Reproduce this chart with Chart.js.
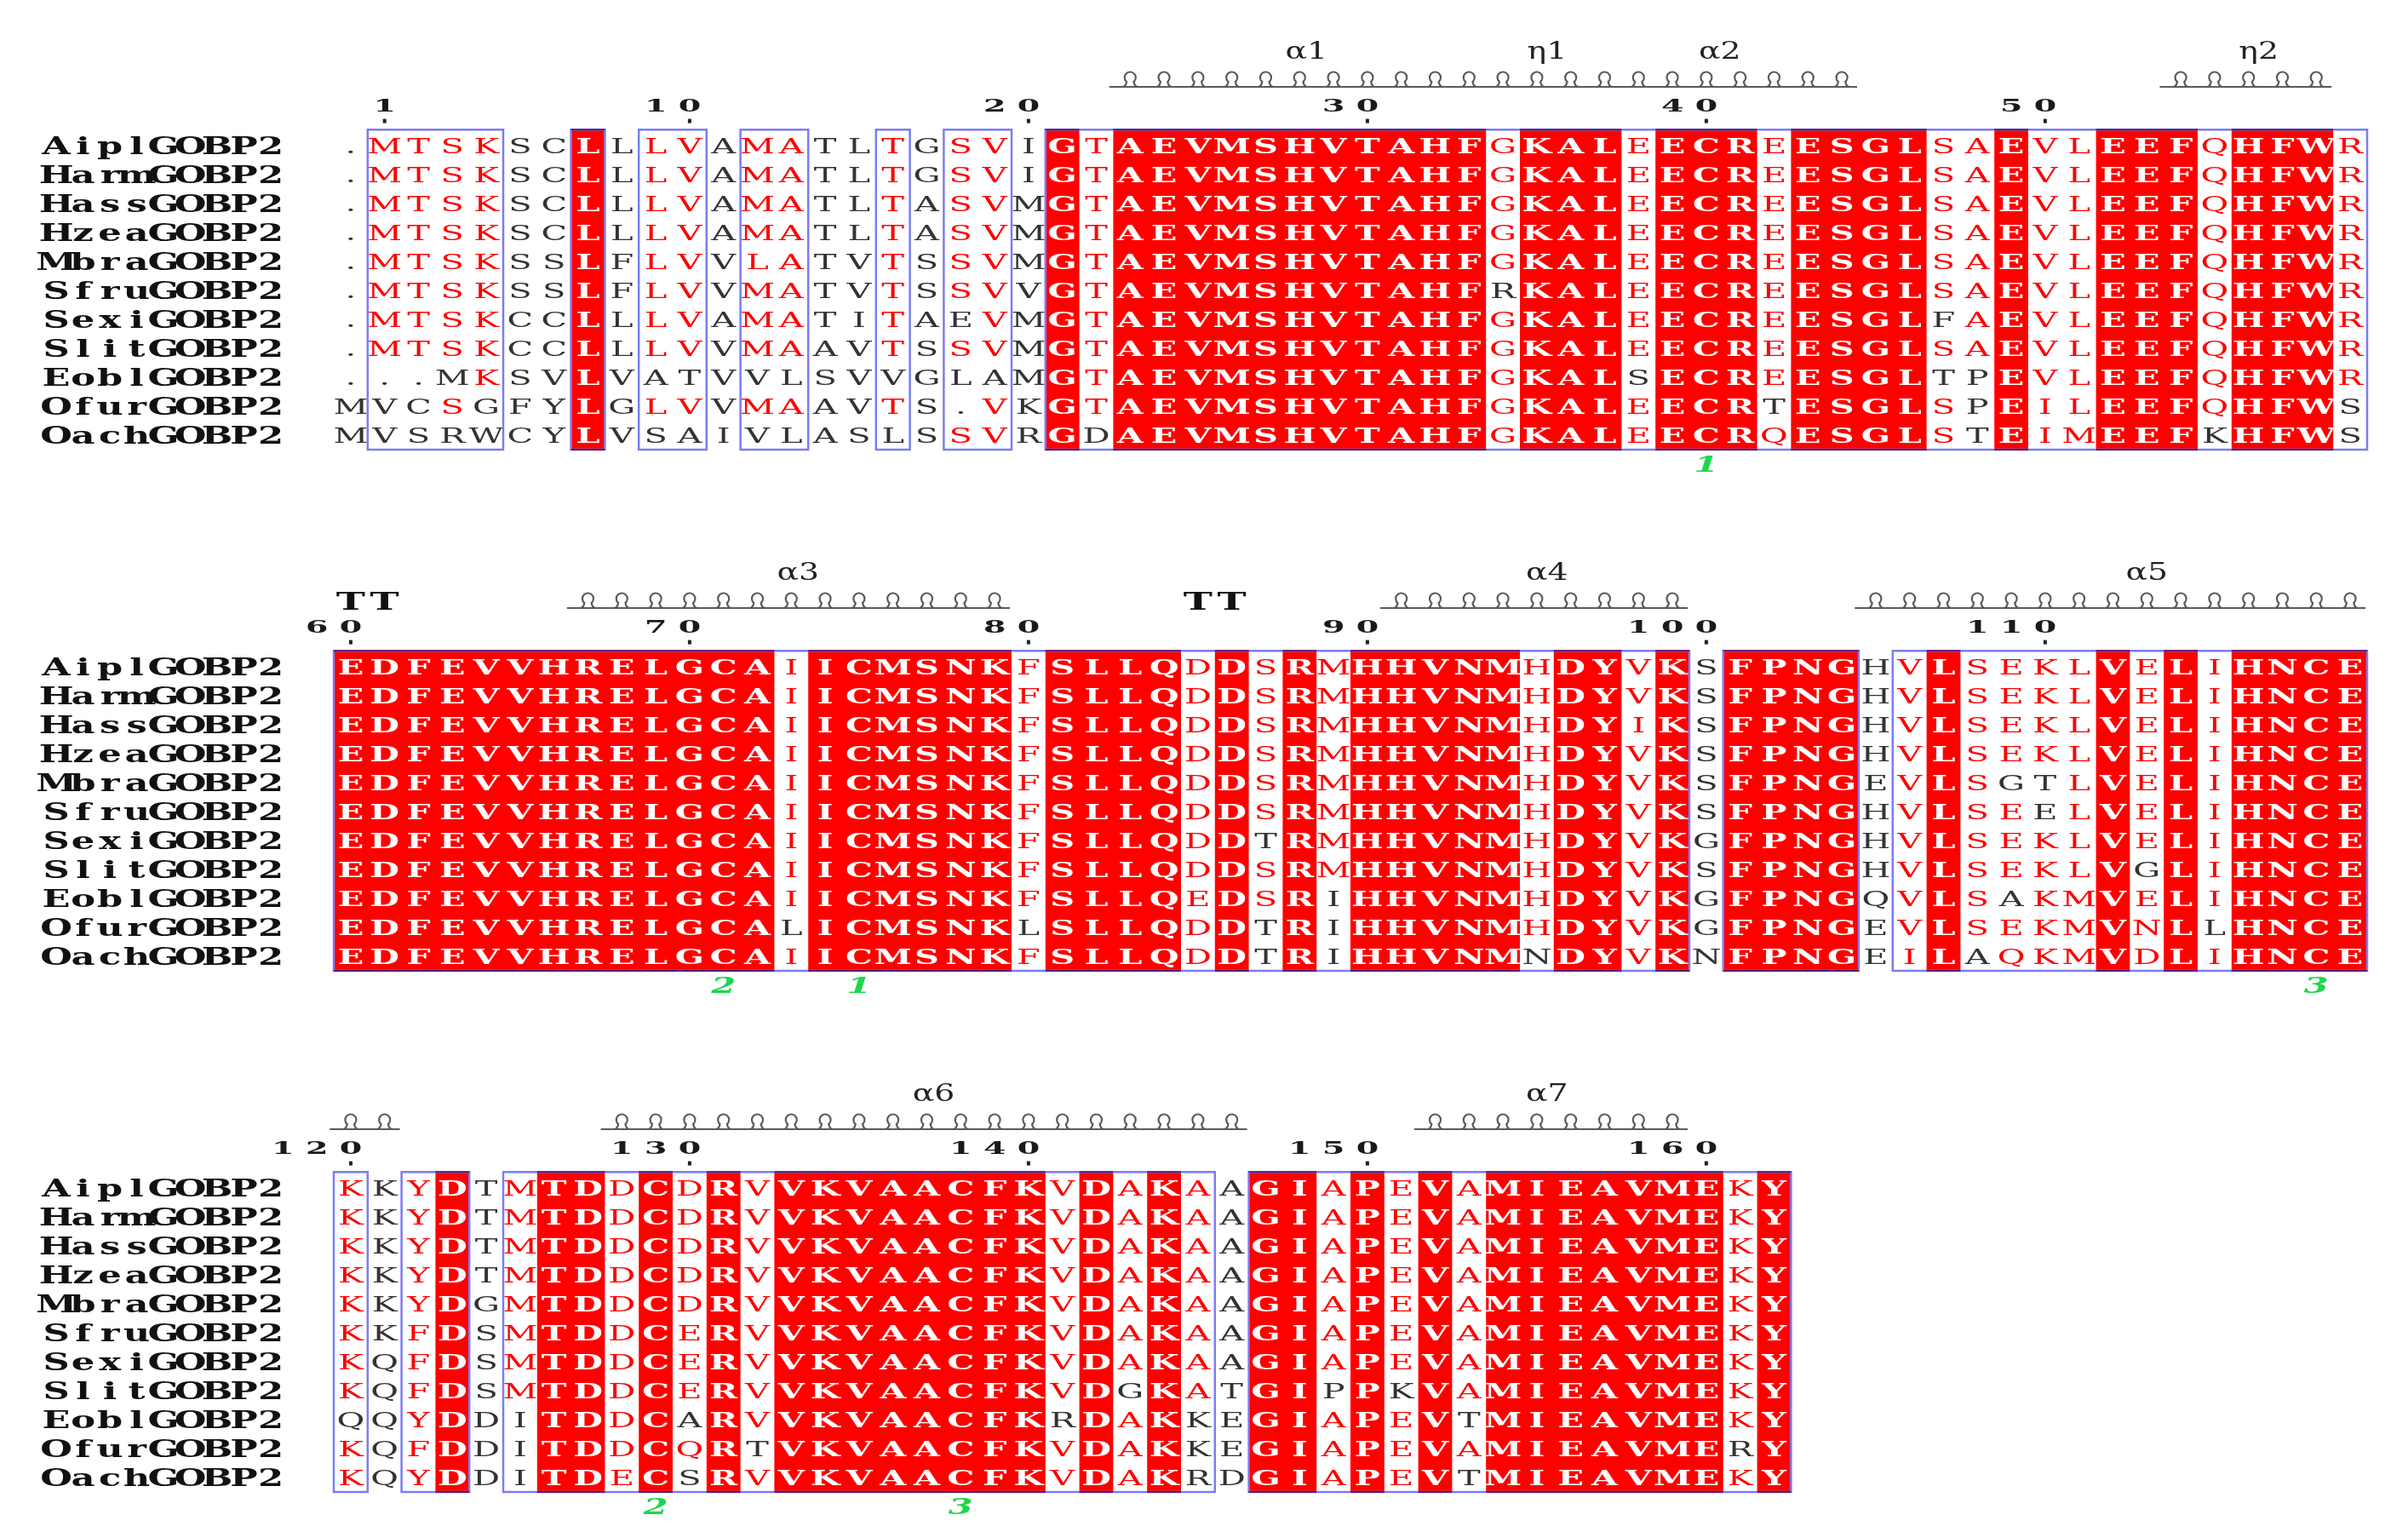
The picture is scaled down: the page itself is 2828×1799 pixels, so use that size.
<!DOCTYPE html>
<html><head><meta charset="utf-8">
<script src="https://cdn.jsdelivr.net/npm/chart.js@4.4.0/dist/chart.umd.min.js"></script>
<style>html,body{margin:0;padding:0;background:#fff;}#wrap{width:2828px;height:1799px;position:relative;}</style>
</head><body><div id="wrap"><canvas id="c"></canvas></div>
<script>
// ---------- data ----------
const names = ['AiplGOBP2','HarmGOBP2','HassGOBP2','HzeaGOBP2','MbraGOBP2','SfruGOBP2','SexiGOBP2','SlitGOBP2','EoblGOBP2','OfurGOBP2','OachGOBP2'];

const seq1 = [
 '.MTSKSCLLLVAMATLTGSVIGTAEVMSHVTAHFGKALEECREESGLSAEVLEEFQHFWR',
 '.MTSKSCLLLVAMATLTGSVIGTAEVMSHVTAHFGKALEECREESGLSAEVLEEFQHFWR',
 '.MTSKSCLLLVAMATLTASVMGTAEVMSHVTAHFGKALEECREESGLSAEVLEEFQHFWR',
 '.MTSKSCLLLVAMATLTASVMGTAEVMSHVTAHFGKALEECREESGLSAEVLEEFQHFWR',
 '.MTSKSSLFLVVLATVTSSVMGTAEVMSHVTAHFGKALEECREESGLSAEVLEEFQHFWR',
 '.MTSKSSLFLVVMATVTSSVVGTAEVMSHVTAHFRKALEECREESGLSAEVLEEFQHFWR',
 '.MTSKCCLLLVAMATITAEVMGTAEVMSHVTAHFGKALEECREESGLFAEVLEEFQHFWR',
 '.MTSKCCLLLVVMAAVTSSVMGTAEVMSHVTAHFGKALEECREESGLSAEVLEEFQHFWR',
 '...MKSVLVATVVLSVVGLAMGTAEVMSHVTAHFGKALSECREESGLTPEVLEEFQHFWR',
 'MVCSGFYLGLVVMAAVTS.VKGTAEVMSHVTAHFGKALEECRTESGLSPEILEEFQHFWS',
 'MVSRWCYLVSAIVLASLSSVRGDAEVMSHVTAHFGKALEECRQESGLSTEIMEEFKHFWS'
];
const seq2 = [
 'EDFEVVHRELGCAIICMSNKFSLLQDDSRMHHVNMHDYVKSFPNGHVLSEKLVELIHNCE',
 'EDFEVVHRELGCAIICMSNKFSLLQDDSRMHHVNMHDYVKSFPNGHVLSEKLVELIHNCE',
 'EDFEVVHRELGCAIICMSNKFSLLQDDSRMHHVNMHDYIKSFPNGHVLSEKLVELIHNCE',
 'EDFEVVHRELGCAIICMSNKFSLLQDDSRMHHVNMHDYVKSFPNGHVLSEKLVELIHNCE',
 'EDFEVVHRELGCAIICMSNKFSLLQDDSRMHHVNMHDYVKSFPNGEVLSGTLVELIHNCE',
 'EDFEVVHRELGCAIICMSNKFSLLQDDSRMHHVNMHDYVKSFPNGHVLSEELVELIHNCE',
 'EDFEVVHRELGCAIICMSNKFSLLQDDTRMHHVNMHDYVKGFPNGHVLSEKLVELIHNCE',
 'EDFEVVHRELGCAIICMSNKFSLLQDDSRMHHVNMHDYVKSFPNGHVLSEKLVGLIHNCE',
 'EDFEVVHRELGCAIICMSNKFSLLQEDSRIHHVNMHDYVKGFPNGQVLSAKMVELIHNCE',
 'EDFEVVHRELGCALICMSNKLSLLQDDTRIHHVNMHDYVKGFPNGEVLSEKMVNLLHNCE',
 'EDFEVVHRELGCAIICMSNKFSLLQDDTRIHHVNMNDYVKNFPNGEILAQKMVDLIHNCE'
];
const seq3 = [
 'KKYDTMTDDCDRVVKVAACFKVDAKAAGIAPEVAMIEAVMEKY',
 'KKYDTMTDDCDRVVKVAACFKVDAKAAGIAPEVAMIEAVMEKY',
 'KKYDTMTDDCDRVVKVAACFKVDAKAAGIAPEVAMIEAVMEKY',
 'KKYDTMTDDCDRVVKVAACFKVDAKAAGIAPEVAMIEAVMEKY',
 'KKYDGMTDDCDRVVKVAACFKVDAKAAGIAPEVAMIEAVMEKY',
 'KKFDSMTDDCERVVKVAACFKVDAKAAGIAPEVAMIEAVMEKY',
 'KQFDSMTDDCERVVKVAACFKVDAKAAGIAPEVAMIEAVMEKY',
 'KQFDSMTDDCERVVKVAACFKVDGKATGIPPKVAMIEAVMEKY',
 'QQYDDITDDCARVVKVAACFKRDAKKEGIAPEVTMIEAVMEKY',
 'KQFDDITDDCQRTVKVAACFKVDAKKEGIAPEVAMIEAVMERY',
 'KQYDDITDECSRVVKVAACFKVDAKRDGIAPEVTMIEAVMEKY'
];

// strictly conserved column runs (red boxes)
const ident1 = [[7,7],[21,21],[23,33],[35,37],[39,41],[43,46],[49,49],[52,54],[56,58]];
const ident2 = [[0,12],[14,19],[21,24],[26,26],[28,28],[30,34],[36,37],[39,39],[41,44],[47,47],[52,52],[54,54],[56,59]];
const ident3 = [[3,3],[6,7],[9,9],[11,11],[13,20],[22,22],[24,24],[27,28],[30,30],[32,32],[34,40],[42,42]];
// similarity frames (blue boxes)
const frames1 = [[1,4],[7,7],[9,10],[12,13],[16,16],[18,19],[21,59]];
const frames2 = [[0,39],[41,44],[46,59]];
const frames3 = [[0,0],[2,3],[5,25],[27,42]];
// residues inside frames that are not highlighted [row, col]
const black1 = [[9,1],[10,1],[9,2],[10,2],[8,3],[10,3],[9,4],[10,4],[8,9],[10,9],[8,10],[10,10],[8,12],[10,12],[8,13],[10,13],[8,16],[10,16],[6,18],[8,18],[8,19],[10,22],[5,34],[8,38],[9,42],[6,47],[8,47],[8,48],[9,48],[10,48],[10,55],[9,59],[10,59]];
const black2 = [[9,13],[9,20],[6,27],[9,27],[10,27],[8,29],[9,29],[10,29],[10,35],[10,48],[4,49],[8,49],[4,50],[5,50],[7,53],[9,55]];
const black3 = [[8,0],[8,5],[9,5],[10,5],[8,10],[10,10],[9,12],[8,21],[7,23],[8,25],[9,25],[10,25],[7,29],[7,31],[8,33],[10,33],[9,41]];

// ruler
const rulerText1 = ['1','10','20','30','40','50'];
const rulerCol1  = [1,10,20,30,40,50];
const rulerText2 = ['60','70','80','90','100','110'];
const rulerCol2  = [0,10,20,30,40,50];
const rulerText3 = ['120','130','140','150','160'];
const rulerCol3  = [0,10,20,30,40];

// secondary structure
const helix1 = [[23,44],[54,58]];
const helixLabel1 = ['α1','η1','α2','η2'];
const helixLabelCol1 = [28.2,35.3,40.4,56.3];
const helix2 = [[7,19],[31,39],[45,59]];
const helixLabel2 = ['α3','α4','α5'];
const helixLabelCol2 = [13.2,35.3,53.0];
const turns2 = [[0,1],[25,26]];
const helix3 = [[0,1],[8,26],[32,39]];
const helixLabel3 = ['α6','α7'];
const helixLabelCol3 = [17.2,35.3];

// disulfide bond labels
const ssText1 = ['1'];           const ssCol1 = [40];
const ssText2 = ['2','1','3'];   const ssCol2 = [11,15,58];
const ssText3 = ['2','3'];       const ssCol3 = [9,18];

// ---------- build ----------
const blocks = [
  {seq:seq1, ident:ident1, frames:frames1, black:black1, rT:rulerText1, rC:rulerCol1, helix:helix1, hl:helixLabel1, hlc:helixLabelCol1, turns:[], ssT:ssText1, ssC:ssCol1},
  {seq:seq2, ident:ident2, frames:frames2, black:black2, rT:rulerText2, rC:rulerCol2, helix:helix2, hl:helixLabel2, hlc:helixLabelCol2, turns:turns2, ssT:ssText2, ssC:ssCol2},
  {seq:seq3, ident:ident3, frames:frames3, black:black3, rT:rulerText3, rC:rulerCol3, helix:helix3, hl:helixLabel3, hlc:helixLabelCol3, turns:[], ssT:ssText3, ssC:ssCol3}
];
const BLOCK_ROWS = 18;
const inRuns = (runs,c)=>runs.some(([s,e])=>c>=s&&c<=e);

const ptsW=[], ptsR=[], ptsK=[];
blocks.forEach((b,bi)=>{
  b.seq.forEach((s,r)=>{
    for(let c=0;c<s.length;c++){
      const ch=s[c];
      const p={x:c,y:bi*BLOCK_ROWS+r,ch};
      if(ch==='.') ptsK.push(p);
      else if(inRuns(b.ident,c)) ptsW.push(p);
      else if(inRuns(b.frames,c)){
        if(b.black.some(([rr,cc])=>rr===r&&cc===c)) ptsK.push(p); else ptsR.push(p);
      } else ptsK.push(p);
    }
  });
});

const RED='#ff0000', BLUE='#7c7cf0', GREEN='#1fd64c', BOXEDGE='#5a1c6e';
const SERIF='"DejaVu Serif"';
function txt(ctx,s,px,py,font,color,sx){
  ctx.save(); ctx.font=font; ctx.fillStyle=color; ctx.textAlign='center'; ctx.textBaseline='alphabetic';
  ctx.translate(px,py); ctx.scale(sx,1); ctx.fillText(s,0,0); ctx.restore();
}

const alignPlugin = {
  id:'align',
  beforeDatasetsDraw(chart){
    const {ctx, scales:{x,y}} = chart;
    const hw=(x.getPixelForValue(1)-x.getPixelForValue(0))/2;
    ctx.save();
    blocks.forEach((b,bi)=>{
      const top=y.getPixelForValue(bi*BLOCK_ROWS-0.55), bot=y.getPixelForValue(bi*BLOCK_ROWS+10.5);
      ctx.fillStyle=RED;
      b.ident.forEach(([s,e])=>{
        const l=x.getPixelForValue(s)-hw, r=x.getPixelForValue(e)+hw;
        ctx.fillRect(l,top,r-l,bot-top);
      });
    });
    ctx.restore();
  },
  afterDatasetsDraw(chart){
    const {ctx, scales:{x,y}} = chart;
    const hw=(x.getPixelForValue(1)-x.getPixelForValue(0))/2;
    // residues
    chart.data.datasets.forEach((ds,i)=>{
      const meta=chart.getDatasetMeta(i);
      const fs=25;
      const font=(ds.bold?'bold ':'')+fs+'px '+SERIF;
      meta.data.forEach((el,j)=>{
        txt(ctx, ds.data[j].ch, el.x, el.y+fs*0.729/2, font, ds.textColor, 1.6);
      });
    });
    blocks.forEach((b,bi)=>{
      const y0=bi*BLOCK_ROWS;
      const top=y.getPixelForValue(y0-0.55), bot=y.getPixelForValue(y0+10.5);
      // frames
      ctx.save(); ctx.strokeStyle=BLUE; ctx.lineWidth=2.5;
      b.frames.forEach(([s,e])=>{
        const l=x.getPixelForValue(s)-hw, r=x.getPixelForValue(e)+hw;
        ctx.strokeRect(l,top,r-l,bot-top);
      });
      // dark edges of conserved boxes
      ctx.strokeStyle=BOXEDGE; ctx.lineWidth=2;
      b.ident.forEach(([s,e])=>{
        const l=x.getPixelForValue(s)-hw, r=x.getPixelForValue(e)+hw;
        ctx.beginPath(); ctx.moveTo(l,top); ctx.lineTo(r,top); ctx.moveTo(l,bot); ctx.lineTo(r,bot); ctx.stroke();
      });
      ctx.restore();
      // names
      b.seq.forEach((s,r)=>{
        const nm=names[r], py=y.getPixelForValue(y0+r)+27*0.729/2;
        for(let k=0;k<nm.length;k++){
          txt(ctx,nm[k],x.getPixelForValue(-8.69+k*0.7915),py,'bold 27px '+SERIF,'#111',1.6);
        }
      });
      // ruler
      b.rT.forEach((t,k)=>{
        const c=b.rC[k];
        const py=y.getPixelForValue(y0-1.4)+20*0.729/2;
        for(let d=0;d<t.length;d++){
          txt(ctx,t[d],x.getPixelForValue(c-(t.length-1-d)),py,'bold 20px '+SERIF,'#1a1a1a',1.9);
        }
        ctx.fillStyle='#222';
        ctx.fillRect(x.getPixelForValue(c)-2,y.getPixelForValue(y0-0.85)-2.5,4,5);
      });
      // helices
      ctx.save(); ctx.strokeStyle='#5a5a5a'; ctx.lineWidth=2.2;
      const base=y.getPixelForValue(y0-2.03);
      b.helix.forEach(([s,e])=>{
        ctx.beginPath(); ctx.moveTo(x.getPixelForValue(s-0.62),base); ctx.lineTo(x.getPixelForValue(e+0.45),base); ctx.stroke();
        for(let c=s;c<=e;c++){
          const cx=x.getPixelForValue(c), cy=base-11, rr=6.5;
          const a0=Math.PI/2+0.7, a1=Math.PI/2-0.7+2*Math.PI;
          ctx.beginPath();
          ctx.moveTo(cx-9,base);
          ctx.quadraticCurveTo(cx+rr*Math.cos(a0)-1,base,cx+rr*Math.cos(a0),cy+rr*Math.sin(a0));
          ctx.ellipse(cx,cy,rr,rr,0,a0,a1);
          ctx.quadraticCurveTo(cx+rr*Math.cos(a1)+1,base,cx+9,base);
          ctx.stroke();
        }
      });
      ctx.restore();
      b.hl.forEach((t,k)=>{
        txt(ctx,t,x.getPixelForValue(b.hlc[k]),y.getPixelForValue(y0-3.28)+10,'27px '+SERIF,'#222',1.4);
      });
      b.turns.forEach(([s,e])=>{
        for(let c=s;c<=e;c++) txt(ctx,'T',x.getPixelForValue(c),y.getPixelForValue(y0-2.26)+27*0.729/2,'bold 27px '+SERIF,'#111',1.7);
      });
      // disulfide labels
      b.ssT.forEach((t,k)=>{
        txt(ctx,t,x.getPixelForValue(b.ssC[k]),y.getPixelForValue(y0+11.0)+26*0.729/2,'italic bold 26px '+SERIF,GREEN,1.6);
      });
    });
  }
};

const yMin=-5, yMax=47.5, ROWPX=34;
new Chart(document.getElementById('c'),{
  type:'scatter',
  data:{datasets:[
    {label:'conserved',data:ptsW,textColor:'#ffffff',bold:true,pointRadius:0},
    {label:'similar',data:ptsR,textColor:RED,bold:false,pointRadius:0},
    {label:'other',data:ptsK,textColor:'#333333',bold:false,pointRadius:0}
  ]},
  options:{
    responsive:true, maintainAspectRatio:false, animation:false, events:[],
    layout:{padding:{left:392,right:48,top:1,bottom:1799-1-(yMax-yMin)*ROWPX}},
    plugins:{legend:{display:false},tooltip:{enabled:false}},
    scales:{
      x:{type:'linear',min:-0.5,max:59.5,display:false},
      y:{type:'linear',min:yMin,max:yMax,reverse:true,display:false}
    }
  },
  plugins:[alignPlugin]
});
</script></body></html>
